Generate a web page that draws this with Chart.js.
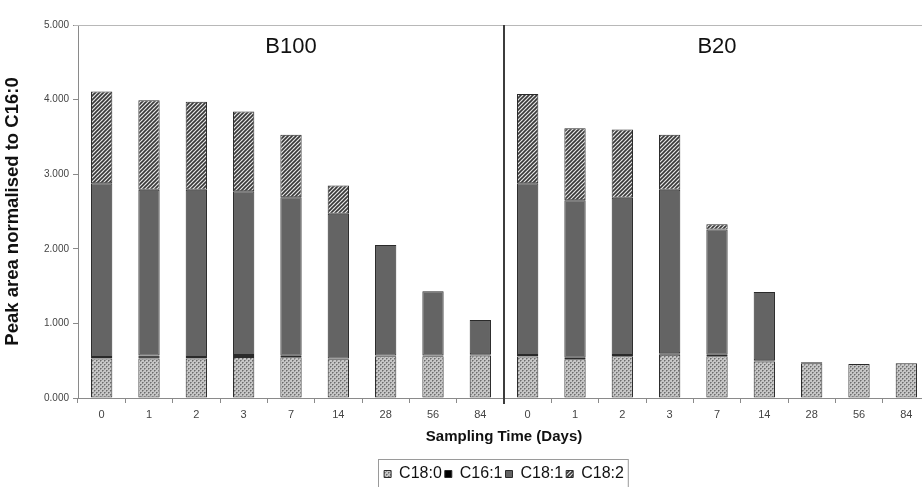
<!DOCTYPE html>
<html>
<head>
<meta charset="utf-8">
<script src="https://cdn.jsdelivr.net/npm/chart.js@4.4.1/dist/chart.umd.min.js"></script>
<style>
    body { margin: 0; background: #fff; overflow: hidden; }
    canvas { display: block; }
</style>
</head>
<body>
<canvas id="fame-chart" width="930" height="487"></canvas>
<script>
// Sampling days, repeated for the B100 and B20 panels
const days = ["0", "1", "2", "3", "7", "14", "28", "56", "84"];
const groups = ["B100", "B20"];

// Peak area normalised to C16:0 (B100 first 9 values, B20 last 9)
const c180 = [0.53, 0.53, 0.53, 0.55, 0.545, 0.52, 0.56, 0.56, 0.57,
              0.555, 0.52, 0.56, 0.58, 0.56, 0.49, 0.465, 0.455, 0.465];
const c161 = [0.02, 0.04, 0.02, 0.025, 0.02, 0.01, 0.01, 0.01, 0.015,
              0.02, 0.02, 0.015, 0.02, 0.02, 0.015, 0.015, 0, 0];
const c181 = [2.33, 2.22, 2.24, 2.195, 2.125, 1.94, 1.48, 0.86, 0.46,
              2.305, 2.11, 2.11, 2.19, 1.68, 0.915, 0, 0, 0];
const c182 = [1.23, 1.20, 1.18, 1.07, 0.84, 0.38, 0, 0, 0,
              1.195, 0.965, 0.915, 0.74, 0.07, 0, 0, 0, 0];

const yTicks = [0, 1, 2, 3, 4, 5];

document.addEventListener("DOMContentLoaded", function () {
    const font = "'Liberation Sans', Arial, sans-serif";

    // Fill patterns like the old Excel ones
    function makePattern(size, draw) {
        const c = document.createElement("canvas");
        c.width = size;
        c.height = size;
        draw(c.getContext("2d"));
        return c.getContext("2d").createPattern(c, "repeat");
    }

    const stipple = makePattern(4, function (g) {
        g.fillStyle = "#c6c6c6";
        g.fillRect(0, 0, 4, 4);
        g.fillStyle = "#6c6c6c";
        g.fillRect(0, 0, 1, 1);
        g.fillRect(2, 2, 1, 1);
        g.fillStyle = "#959595";
        g.fillRect(1, 0, 1, 1);
        g.fillRect(0, 1, 1, 1);
        g.fillRect(3, 2, 1, 1);
        g.fillRect(2, 3, 1, 1);
    });

    const hatch = makePattern(4, function (g) {
        g.fillStyle = "#e6e6e6";
        g.fillRect(0, 0, 4, 4);
        g.strokeStyle = "#383838";
        g.lineWidth = 1.6;
        g.beginPath();
        g.moveTo(-1, 5);
        g.lineTo(5, -1);
        g.moveTo(-1, 1);
        g.lineTo(1, -1);
        g.moveTo(3, 5);
        g.lineTo(5, 3);
        g.stroke();
    });

    const labels = days.concat(days);

    function series(name, values, fill) {
        return {
            label: name,
            data: values.map(v => (v > 0 ? v : null)),
            backgroundColor: fill,
            borderColor: "#2a2a2a",
            borderWidth: 1,
            borderSkipped: false,
            barPercentage: 0.45,
            categoryPercentage: 1
        };
    }

    // Panel labels, divider, top frame line and legend frame
    const panelPlugin = {
        id: "panels",
        afterDatasetsDraw(chart) {
            const ctx = chart.ctx;
            const area = chart.chartArea;
            const x = chart.scales.x;
            const split = (x.getPixelForTick(8) + x.getPixelForTick(9)) / 2;

            ctx.save();
            ctx.strokeStyle = "#b8b8b8";
            ctx.lineWidth = 1;
            ctx.beginPath();
            ctx.moveTo(area.left - 4, area.top + 0.5);
            ctx.lineTo(area.right, area.top + 0.5);
            ctx.stroke();

            ctx.strokeStyle = "#3c3c3c";
            ctx.lineWidth = 2;
            ctx.beginPath();
            ctx.moveTo(split, area.top);
            ctx.lineTo(split, area.bottom + 6);
            ctx.stroke();

            ctx.fillStyle = "#111";
            ctx.font = "22px " + font;
            ctx.textAlign = "center";
            ctx.textBaseline = "middle";
            ctx.fillText(groups[0], (area.left + split) / 2, 47);
            ctx.fillText(groups[1], (split + area.right) / 2, 47);

            const boxes = chart.legend.legendHitBoxes;
            if (boxes && boxes.length) {
                const l = Math.min(...boxes.map(b => b.left));
                const r = Math.max(...boxes.map(b => b.left + b.width));
                const t = Math.min(...boxes.map(b => b.top));
                ctx.strokeStyle = "#9a9a9a";
                ctx.lineWidth = 1;
                ctx.strokeRect(Math.round(l) - 5.5, Math.round(t) - 6.5, r - l + 10, 40);
            }
            ctx.restore();
        }
    };

    const ctx = document.getElementById("fame-chart").getContext("2d");
    new Chart(ctx, {
        type: "bar",
        data: {
            labels: labels,
            datasets: [
                series("C18:0", c180, stipple),
                series("C16:1", c161, "#000"),
                series("C18:1", c181, "#646464"),
                series("C18:2", c182, hatch)
            ]
        },
        options: {
            responsive: false,
            animation: false,
            layout: { padding: { top: 25, right: 0, bottom: -5, left: 0 } },
            plugins: {
                tooltip: { enabled: false },
                legend: {
                    position: "bottom",
                    fullSize: false,
                    labels: {
                        boxWidth: 7,
                        boxHeight: 7,
                        padding: 3,
                        color: "#111",
                        font: { family: font, size: 16 }
                    }
                }
            },
            scales: {
                x: {
                    stacked: true,
                    offset: true,
                    grid: {
                        offset: true,
                        drawOnChartArea: false,
                        tickLength: 5,
                        color: "#8a8a8a"
                    },
                    border: { color: "#8a8a8a" },
                    ticks: {
                        color: "#444",
                        padding: 5,
                        maxRotation: 0,
                        autoSkip: false,
                        font: { family: font, size: 11 }
                    },
                    title: {
                        display: true,
                        text: "Sampling Time (Days)",
                        color: "#111",
                        padding: { top: 0, bottom: 17 },
                        font: { family: font, size: 15, weight: "bold" }
                    },
                    afterFit(scale) { scale.height = 65; }
                },
                y: {
                    stacked: true,
                    min: yTicks[0],
                    max: yTicks[yTicks.length - 1],
                    grid: {
                        drawOnChartArea: false,
                        tickLength: 5,
                        color: "#8a8a8a"
                    },
                    border: { color: "#8a8a8a" },
                    afterBuildTicks(scale) {
                        scale.ticks = yTicks.map(v => ({ value: v }));
                    },
                    ticks: {
                        color: "#444",
                        padding: 4,
                        font: { family: font, size: 10 },
                        callback: v => Number(v).toFixed(3)
                    },
                    title: {
                        display: true,
                        text: "Peak area normalised to C16:0",
                        color: "#111",
                        padding: { top: 2, bottom: 0 },
                        font: { family: font, size: 18.5, weight: "bold" }
                    },
                    afterFit(scale) { scale.width = 78; }
                }
            }
        },
        plugins: [panelPlugin]
    });
});
</script>
</body>
</html>
